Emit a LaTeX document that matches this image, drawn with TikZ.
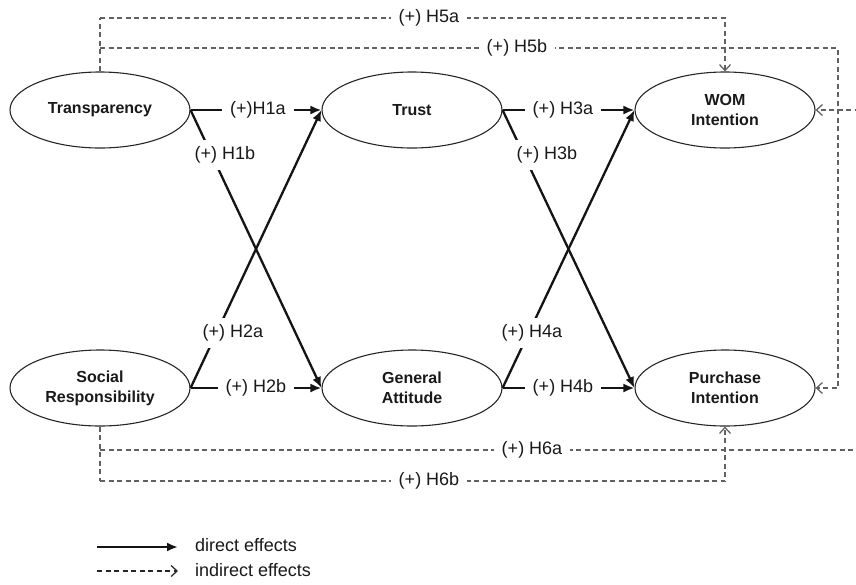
\documentclass[tikz,border=0pt]{standalone}
\usepackage{fontspec}
\setmainfont{Liberation Sans}
\usetikzlibrary{arrows.meta,shapes.geometric}
\begin{document}
\begin{tikzpicture}[x=1pt,y=-1pt,
  construct/.style={ellipse,draw=black!85,line width=1.1pt,minimum width=180pt,minimum height=76pt,inner sep=0pt,align=center,font=\fontsize{16}{20}\selectfont\bfseries,text=black!90},
  direct/.style={line width=2.3pt,draw=black!92,-{Latex[length=11pt,width=9pt]}},
  indirect/.style={draw=black!62,line width=1.25pt,dash pattern=on 5pt off 3.5pt,-{Straight Barb[length=6pt,width=11pt]}},
  indline/.style={draw=black!62,line width=1.25pt,dash pattern=on 5pt off 3.5pt},
  lbl/.style={fill=white,inner xsep=8pt,inner ysep=7pt,font=\fontsize{18}{21}\selectfont,text=black!90},
  legtext/.style={anchor=west,inner sep=0pt,font=\fontsize{18}{21}\selectfont,text=black!90},
]
\useasboundingbox (0,0) rectangle (856,584);
\clip (0,0) rectangle (856,584);

% constructs
\node[construct] (T)  at (100,110) {Transparency};
\node[construct] (TR) at (412,110) {Trust};
\node[construct] (W)  at (725,110) {WOM\\Intention};
\node[construct] (S)  at (100,388) {Social\\Responsibility};
\node[construct] (G)  at (412,388) {General\\Attitude};
\node[construct] (P)  at (725,388) {Purchase\\Intention};

% corner coordinates for indirect paths
\coordinate (c5a) at (100,18);
\coordinate (c5b) at (100,48);
\coordinate (c5br) at (838,48);
\coordinate (c5bd) at (838,388);
\coordinate (c6a) at (100,450);
\coordinate (c6ar) at (875,450);
\coordinate (c6au) at (875,110);
\coordinate (c6b) at (100,481);

% indirect effects
\draw[indline] (T.north) -- (c5a);
\draw[indirect] (c5a) -| (W.north);
\draw[indirect] (c5b) -- (c5br) -- (c5bd) -- (P.east);
\draw[indline] (S.south) -- (c6b);
\draw[indirect] (c6a) -- (c6ar) -- (c6au) -- (W.east);
\draw[indirect] (c6b) -| (P.south);

% direct effects
\draw[direct] (T.east) -- (TR.west);
\draw[direct] (T.east) -- (G.west);
\draw[direct] (S.east) -- (TR.west);
\draw[direct] (S.east) -- (G.west);
\draw[direct] (TR.east) -- (W.west);
\draw[direct] (TR.east) -- (P.west);
\draw[direct] (G.east) -- (W.west);
\draw[direct] (G.east) -- (P.west);

% labels
\node[lbl] (h1a) at (258,110) {(+)H1a};
\node[lbl] (h1b) at (225,155) {(+) H1b};
\node[lbl] (h2a) at (233,333) {(+) H2a};
\node[lbl] (h2b) at (256,388) {(+) H2b};
\node[lbl] (h3a) at (563,110) {(+) H3a};
\node[lbl] (h3b) at (547,155) {(+) H3b};
\node[lbl] (h4a) at (532,333) {(+) H4a};
\node[lbl] (h4b) at (563,388) {(+) H4b};
\node[lbl] (h5a) at (429,18) {(+) H5a};
\node[lbl] (h5b) at (517,48) {(+) H5b};
\node[lbl] (h6a) at (532,450) {(+) H6a};
\node[lbl] (h6b) at (429,481) {(+) H6b};

% legend
\coordinate (l1s) at (97,547);
\coordinate (l1e) at (178,547);
\coordinate (l2s) at (97,571);
\coordinate (l2e) at (178,571);
\draw[direct] (l1s) -- (l1e);
\draw[indirect,draw=black!85] (l2s) -- (l2e);
\node[legtext] (t1) at (195,545) {direct effects};
\node[legtext] (t2) at (195,570) {indirect effects};
\end{tikzpicture}
\end{document}
